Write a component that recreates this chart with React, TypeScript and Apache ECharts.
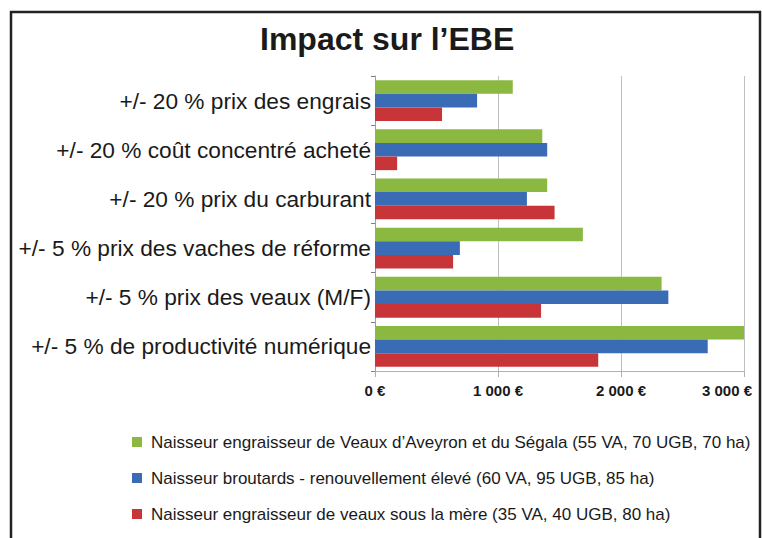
import React, { useEffect, useRef } from 'react';
import * as echarts from 'echarts';

const categories = [
  '+/- 20 % prix des engrais',
  '+/- 20 % coût concentré acheté',
  '+/- 20 % prix du carburant',
  '+/- 5 % prix des vaches de réforme',
  '+/- 5 % prix des veaux (M/F)',
  '+/- 5 % de productivité numérique',
];
const seriesNames = [
  'Naisseur engraisseur de Veaux d’Aveyron et du Ségala (55 VA, 70 UGB, 70 ha)',
  'Naisseur broutards - renouvellement élevé (60 VA, 95 UGB, 85 ha)',
  'Naisseur engraisseur de veaux sous la mère (35 VA, 40 UGB, 80 ha)',
];
const aveyronValues = [1120, 1360, 1400, 1690, 2330, 3000];
const broutardsValues = [830, 1400, 1235, 690, 2385, 2705];
const sousMereValues = [545, 180, 1460, 635, 1350, 1815];
const seriesColors = ['#8ab840', '#3a6cb5', '#c83538'];
const xMin = 0;
const xMax = 3000;
const xInterval = 1000;

const FONT = "'Liberation Sans', Arial, sans-serif";

function fmt(v: number): string {
  if (v === 0) return '0 €';
  const th = Math.floor(v / 1000);
  const rest = String(v % 1000).padStart(3, '0');
  return `${th} ${rest} €`;
}

export default function App() {
  const ref = useRef<HTMLDivElement>(null);
  useEffect(() => {
    if (!ref.current) return;
    const chart = echarts.init(ref.current, null, { renderer: 'svg' });
    const data = [aveyronValues, broutardsValues, sousMereValues];
    chart.setOption({
      animation: false,
      backgroundColor: '#ffffff',
      title: {
        text: 'Impact sur l’EBE',
        left: 255,
        top: 18,
        textStyle: { fontFamily: FONT, fontSize: 32, fontWeight: 'bold', color: '#1a1a1a' },
      },
      graphic: [
        {
          type: 'rect',
          z: -10,
          shape: { x: 11, y: 12, width: 749, height: 540 },
          style: { fill: 'none', stroke: '#222222', lineWidth: 2.5 },
        },
      ],
      legend: {
        orient: 'vertical',
        left: 127,
        top: 427,
        itemWidth: 10,
        itemHeight: 10,
        itemGap: 16,
        icon: 'rect',
        data: seriesNames,
        textStyle: {
          fontFamily: FONT,
          fontSize: 17,
          lineHeight: 20,
          color: '#1a1a1a',
          padding: [0, 0, 0, 4],
        },
      },
      grid: { left: 375, right: 18, top: 76, bottom: 167, containLabel: false },
      xAxis: {
        type: 'value',
        min: xMin,
        max: xMax,
        interval: xInterval,
        axisLine: { show: true, lineStyle: { color: '#b0b0b0' } },
        axisTick: { show: true, length: 6, lineStyle: { color: '#b0b0b0' } },
        splitLine: { show: true, lineStyle: { color: '#c0c0c0', width: 1 } },
        axisLabel: {
          margin: 12,
          fontFamily: FONT,
          fontSize: 15,
          fontWeight: 'bold',
          color: '#1a1a1a',
          formatter: (v: number) => (v === xMax ? `{last|${fmt(v)}}` : fmt(v)),
          rich: {
            last: {
              fontFamily: FONT,
              fontSize: 15,
              fontWeight: 'bold',
              color: '#1a1a1a',
              padding: [0, 34, 0, 0],
            },
          },
        },
      },
      yAxis: {
        type: 'category',
        inverse: true,
        data: categories,
        axisLine: { show: true, lineStyle: { color: '#a0a0a0' } },
        axisTick: { show: true, length: 4, lineStyle: { color: '#808080' } },
        axisLabel: {
          margin: 4,
          fontFamily: FONT,
          fontSize: 22.7,
          color: '#1a1a1a',
        },
      },
      series: data.map((vals, i) => ({
        name: seriesNames[i],
        type: 'bar',
        data: vals,
        barGap: '0%',
        barCategoryGap: '17%',
        itemStyle: { color: seriesColors[i] },
      })),
    });
    return () => chart.dispose();
  }, []);
  return <div ref={ref} style={{ position: 'fixed', left: 0, top: 0, width: 762, height: 538 }} />;
}
